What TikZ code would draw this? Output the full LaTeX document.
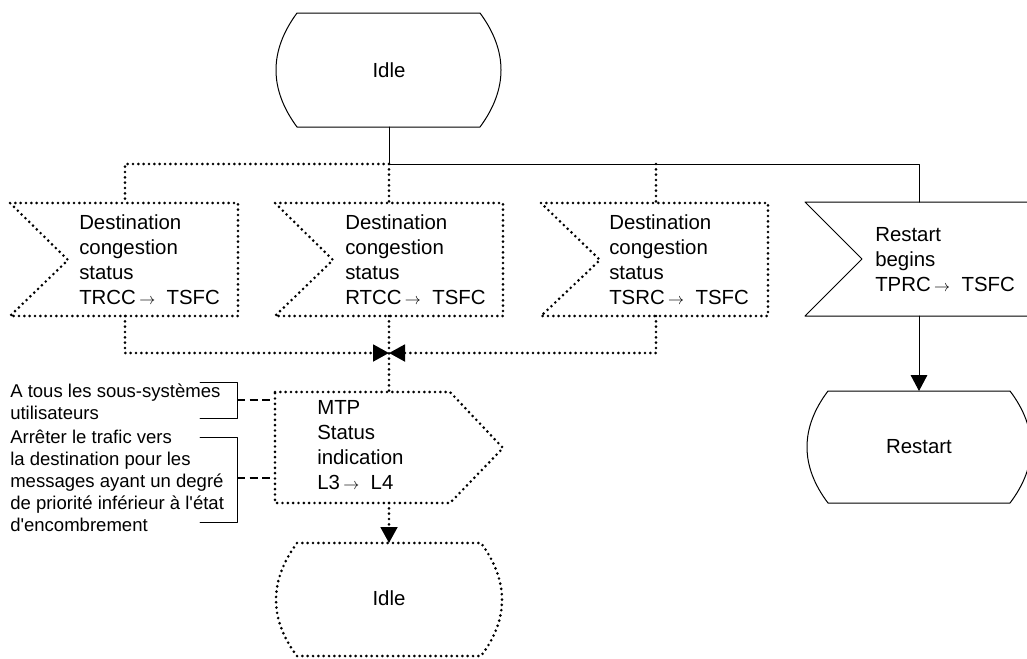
\documentclass[tikz,border=0pt]{standalone}
\usepackage{fontspec}
\setmainfont{Liberation Sans}
\usetikzlibrary{arrows.meta}

\newcommand{\sigto}{\,{\fontsize{12}{12}\selectfont$\rightarrow$}\ \ }

\begin{document}
\begin{tikzpicture}[x=0.75pt, y=-0.75pt, line cap=round, line join=round,
  solidline/.style={line width=0.75pt},
  dotline/.style={line width=2.2pt, dash pattern=on 0pt off 4pt},
  noteline/.style={line width=0.9pt, dash pattern=on 6pt off 3.5pt, line cap=butt},
  flowarrow/.style={-{Triangle[length=12pt,width=12.5pt]}},
  boxtext/.style={anchor=west, align=left, inner sep=0pt, font=\fontsize{15.3}{18.75}\selectfont},
  notetext/.style={anchor=west, align=left, inner sep=0pt, font=\fontsize{13.9}{16.5}\selectfont}]
  \useasboundingbox (0,0) rectangle (1027,658);

  % start state
  \draw[solidline] (297,13) -- (480,13) .. controls (508,51) and (508,89) .. (480,127)
    -- (297,127) .. controls (269,89) and (269,51) .. cycle;
  \node[boxtext, anchor=center] (idle1) at (389,70) {Idle};
  \coordinate (idle1-s) at (389,127);
  \coordinate (bus) at (389,164);
  \coordinate (bus3) at (656,164);

  % input signals
  \coordinate (sig1-n) at (125,203);
  \coordinate (sig2-n) at (389,203);
  \coordinate (sig3-n) at (656,203);
  \coordinate (sig4-n) at (919,202);
  \coordinate (sig1-s) at (125,316);
  \coordinate (sig2-s) at (389,316);
  \coordinate (sig3-s) at (656,316);
  \coordinate (sig4-s) at (919,316);

  \draw[dotline] (10,203) -- (238,203) -- (238,316) -- (10,316) -- (68,260) -- cycle;
  \draw[dotline] (275,203) -- (503,203) -- (503,316) -- (275,316) -- (333,260) -- cycle;
  \draw[dotline] (541,203) -- (768,203) -- (768,316) -- (541,316) -- (600,260) -- cycle;
  \draw[solidline] (805,202) -- (1035,202) -- (1035,316) -- (805,316) -- (862,259) -- cycle;

  \node[boxtext] (sig1) at (79,260) {Destination\\congestion\\status\\TRCC\sigto TSFC};
  \node[boxtext] (sig2) at (345,260) {Destination\\congestion\\status\\RTCC\sigto TSFC};
  \node[boxtext] (sig3) at (609,260) {Destination\\congestion\\status\\TSRC\sigto TSFC};
  \node[boxtext] (sig4) at (875,260) {Restart\\begins\\TPRC\sigto TSFC};

  \draw[solidline] (idle1-s) -- (bus) -- (919,164) -- (sig4-n);
  \draw[dotline] (bus) -| (sig1-n);
  \draw[dotline] (bus) -- (sig2-n);
  \draw[dotline] (bus3) -- (sig3-n);

  % merge into output
  \coordinate (merge) at (389,353);
  \coordinate (out-n) at (389,392);
  \coordinate (out-s) at (389,503);
  \draw[dotline, flowarrow] (sig1-s) |- (merge);
  \draw[dotline, flowarrow] (sig3-s) |- (merge);
  \draw[dotline] (sig2-s) -- (merge) -- (out-n);

  % output signal
  \draw[dotline] (275,392) -- (450,392) -- (503,448) -- (450,503) -- (275,503) -- cycle;
  \node[boxtext] (mtp) at (317,445) {MTP\\Status\\indication\\L3\sigto L4};

  % next state
  \coordinate (idle2-n) at (389,543);
  \draw[dotline, flowarrow] (out-s) -- (idle2-n);
  \draw[dotline] (297,543) -- (481,543) .. controls (509,581) and (509,619) .. (481,656)
    -- (297,656) .. controls (269,619) and (269,581) .. cycle;
  \node[boxtext, anchor=center] (idle2) at (389,598) {Idle};

  % restart branch
  \coordinate (restart-n) at (919,391);
  \draw[solidline, flowarrow] (sig4-s) -- (restart-n);
  \draw[solidline] (828,391) -- (1010,391) .. controls (1038,428) and (1038,466) .. (1010,503)
    -- (828,503) .. controls (800,466) and (800,428) .. cycle;
  \node[boxtext, anchor=center] (restart) at (919,447) {Restart};

  % comments
  \node[notetext] (note1) at (10,402) {A tous les sous-systèmes\\utilisateurs};
  \node[notetext] (note2) at (10,481) {Arrêter le trafic vers\\la destination pour les\\messages ayant un degré\\de priorité inférieur à l\textquotesingle état\\d\textquotesingle encombrement};
  \draw[solidline] (200,382) -- (237,382) -- (237,418) -- (200,418);
  \draw[solidline] (200,437) -- (237,437) -- (237,522) -- (200,522);
  \coordinate (br1) at (237,400);
  \coordinate (br2) at (237,478);
  \coordinate (out-w1) at (275,400);
  \coordinate (out-w2) at (275,478);
  \draw[noteline] (br1) -- (out-w1);
  \draw[noteline] (br2) -- (out-w2);
\end{tikzpicture}
\end{document}
